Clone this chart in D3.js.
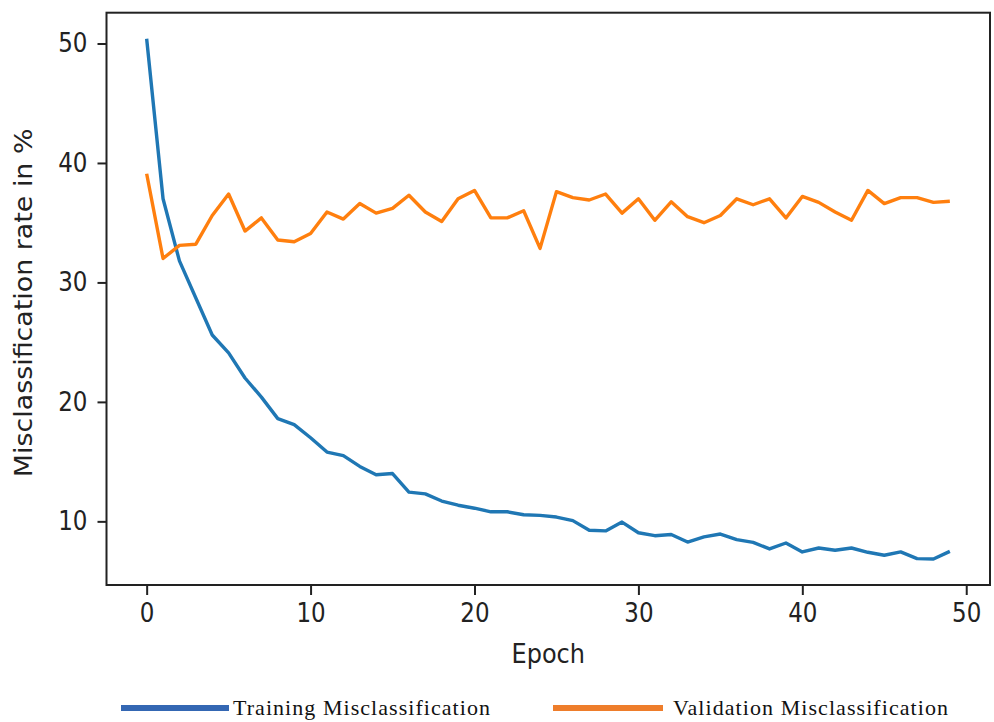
<!DOCTYPE html>
<html>
<head>
<meta charset="utf-8">
<script src="https://cdn.jsdelivr.net/npm/d3@7"></script>
<style>
  body { margin: 0; background: #fff; }
  svg { display: block; }
  .tall { transform-box: fill-box; transform-origin: center; transform: scaleY(1.12); }
</style>
</head>
<body>
<div id="chart"></div>
<script>
// values (misclassification rate in %)
var epochs = d3.range(0, 50);
var training = [50.4, 37.0, 31.8, 28.7, 25.6, 24.1, 22.0, 20.4, 18.6, 18.1,
  17.0, 15.8, 15.5, 14.6, 13.9, 14.0, 12.45, 12.3, 11.7, 11.35,
  11.1, 10.8, 10.8, 10.55, 10.5, 10.36, 10.06, 9.25, 9.2, 9.94,
  9.05, 8.8, 8.9, 8.27, 8.7, 8.94, 8.47, 8.24, 7.69, 8.19,
  7.44, 7.77, 7.58, 7.77, 7.41, 7.16, 7.44, 6.88, 6.85, 7.49];
var validation = [39.1, 32.0, 33.1, 33.2, 35.6, 37.4, 34.3, 35.4, 33.55, 33.4,
  34.1, 35.9, 35.3, 36.6, 35.8, 36.2, 37.3, 35.9, 35.1, 37.0,
  37.7, 35.4, 35.4, 36.0, 32.85, 37.6, 37.1, 36.9, 37.4, 35.8,
  37.0, 35.2, 36.75, 35.5, 35.0, 35.6, 37.0, 36.5, 37.0, 35.4,
  37.2, 36.7, 35.9, 35.2, 37.7, 36.6, 37.1, 37.1, 36.7, 36.8];
var xTicks = [0, 10, 20, 30, 40, 50];
var yTicks = [10, 20, 30, 40, 50];
var seriesNames = ["Training Misclassification", "Validation Misclassification"];

var W = 994, H = 722;
var margin = { top: 12.7, right: 4, bottom: 137, left: 106.5 };
var width = W - margin.left - margin.right,
  height = H - margin.top - margin.bottom;

var svg = d3.select("#chart").append("svg")
  .attr("width", W)
  .attr("height", H);

var g = svg.append("g")
  .attr("transform", "translate(" + margin.left + "," + margin.top + ")");

// matplotlib style 5% padding around the data
var xPad = (d3.max(epochs) - d3.min(epochs)) * 0.05;
var allVals = training.concat(validation);
var yMin = d3.min(allVals), yMax = d3.max(allVals);
var yPad = (yMax - yMin) * 0.05;

var x = d3.scaleLinear()
  .domain([d3.min(epochs) - xPad, d3.max(epochs) + xPad])
  .range([0, width]);
var y = d3.scaleLinear()
  .domain([yMin - yPad, yMax + yPad])
  .range([height, 0]);

var tickFont = "DejaVu Sans, sans-serif";

// X axis
var xAxis = g.append("g")
  .attr("transform", "translate(0," + height + ")")
  .call(d3.axisBottom(x).tickValues(xTicks).tickSize(10).tickPadding(10).tickFormat(d3.format("d")));
xAxis.select(".domain").remove();
xAxis.selectAll("line").attr("stroke", "#222").attr("stroke-width", 2);
xAxis.selectAll("text").attr("class", "tall").attr("font-family", tickFont).attr("font-size", 23).attr("fill", "#222");

// Y axis
var yAxis = g.append("g")
  .call(d3.axisLeft(y).tickValues(yTicks).tickSize(9).tickPadding(10).tickFormat(d3.format("d")));
yAxis.select(".domain").remove();
yAxis.selectAll("line").attr("stroke", "#222").attr("stroke-width", 2);
yAxis.selectAll("text").attr("class", "tall").attr("font-family", tickFont).attr("font-size", 23).attr("fill", "#222");

// lines
var line = d3.line()
  .x(function (d, i) { return x(epochs[i]); })
  .y(function (d) { return y(d); });

g.append("path")
  .datum(training)
  .attr("fill", "none")
  .attr("stroke", "#1f77b4")
  .attr("stroke-width", 3.4)
  .attr("stroke-linejoin", "round")
  .attr("d", line);

g.append("path")
  .datum(validation)
  .attr("fill", "none")
  .attr("stroke", "#ff7f0e")
  .attr("stroke-width", 3.4)
  .attr("stroke-linejoin", "round")
  .attr("d", line);

// frame
g.append("rect")
  .attr("width", width)
  .attr("height", height)
  .attr("fill", "none")
  .attr("stroke", "#222")
  .attr("stroke-width", 2);

// axis labels
g.append("text")
  .attr("class", "tall")
  .attr("x", width / 2)
  .attr("y", height + 77)
  .attr("text-anchor", "middle")
  .attr("font-family", tickFont)
  .attr("font-size", 24)
  .attr("fill", "#222")
  .text("Epoch");

g.append("text")
  .attr("transform", "translate(" + (-margin.left + 32) + "," + (height / 2 + 4) + ") rotate(-90) scale(1.12,1)")
  .attr("text-anchor", "middle")
  .attr("font-family", tickFont)
  .attr("font-size", 24)
  .attr("fill", "#222")
  .text("Misclassification rate in %");

// legend below the chart
var legendItems = [
  { name: seriesNames[0], color: "#3467b3", x0: 121, x1: 229, tx: 233, tw: 257 },
  { name: seriesNames[1], color: "#ee7d2b", x0: 553, x1: 663, tx: 673, tw: 275 }
];
var legend = svg.append("g");
legendItems.forEach(function (d) {
  legend.append("line")
    .attr("x1", d.x0).attr("x2", d.x1)
    .attr("y1", 708).attr("y2", 708)
    .attr("stroke", d.color)
    .attr("stroke-width", 6);
  legend.append("text")
    .attr("x", d.tx)
    .attr("y", 714.5)
    .attr("font-family", "Liberation Serif, Times New Roman, serif")
    .attr("font-size", 22)
    .attr("textLength", d.tw)
    .attr("lengthAdjust", "spacing")
    .attr("fill", "#111")
    .text(d.name);
});
</script>
</body>
</html>
